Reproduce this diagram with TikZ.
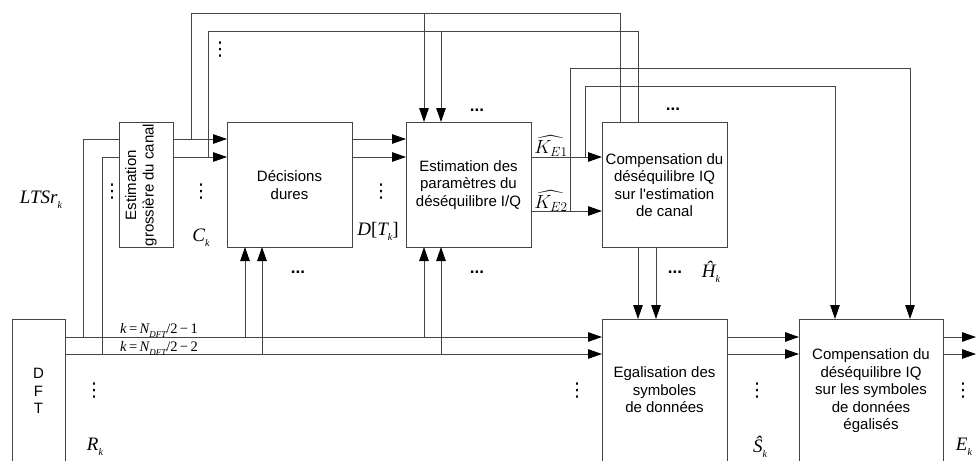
\RequirePackage{fix-cm}
\documentclass[tikz,border=0pt]{standalone}
\usepackage{exscale}
\usepackage{fontspec}
\setmainfont{Liberation Sans}
\newfontfamily\tms{Liberation Serif}
\newfontfamily\djv{DejaVu Sans}
\usetikzlibrary{arrows.meta}
\newcommand{\tm}[1]{{\tms\itshape #1}}
\newcommand{\sbk}[1]{\raisebox{-0.5ex}{\tms\itshape\fontsize{10}{10}\selectfont #1}}
\definecolor{linec}{gray}{0.27}
\tikzset{
  box/.style={draw=linec, fill=white, line width=1pt, inner sep=0pt, outer sep=0pt, anchor=north west},
  txt/.style={align=center, font=\fontsize{15}{17.5}\selectfont, inner sep=0pt},
  lab/.style={font=\fontsize{19}{19}\selectfont, inner sep=0pt},
  klab/.style={font=\fontsize{14.5}{14.5}\selectfont, inner sep=0pt},
  vd/.style={font=\djv\fontsize{19}{19}\selectfont, inner sep=0pt},
  hd/.style={font=\fontsize{17}{17}\selectfont\bfseries, inner sep=0pt, anchor=base},
  ln/.style={draw=linec, line width=1pt},
  arr/.style={ln, -{Triangle[length=14pt,width=9.5pt,color=black]}}
}
\begin{document}
\begin{tikzpicture}[x=1pt,y=-1pt]
\useasboundingbox (0,0) rectangle (976,460);
\clip (0,0) rectangle (976,460);

% boxes
\node[box, minimum width=54pt, minimum height=125pt] (est) at (119,122) {};
\node[box, minimum width=125pt, minimum height=125pt] (dec) at (227,122) {};
\node[box, minimum width=125pt, minimum height=125pt] (par) at (406,122) {};
\node[box, minimum width=125pt, minimum height=125pt] (cmp) at (602,122) {};
\node[box, minimum width=125pt, minimum height=160pt] (egal) at (602,319) {};
\node[box, minimum width=144pt, minimum height=160pt] (cmp2) at (799,319) {};
\node[box, minimum width=53pt, minimum height=160pt] (dft) at (12,319) {};

% box texts
\node[txt, rotate=90] (test) at (141,185) {Estimation\\grossière du canal};
\node[txt] (tdec) at (289.5,185) {Décisions\\dures};
\node[txt] (tpar) at (468.5,185) {Estimation des\\paramètres du\\déséquilibre I/Q};
\node[txt] (tcmp) at (664.5,185) {Compensation du\\déséquilibre IQ\\sur l\textquotesingle estimation\\de canal};
\node[txt] (tegal) at (664.5,390) {Egalisation des\\symboles\\de données};
\node[txt] (tcmp2) at (871,391) {Compensation du\\déséquilibre IQ\\sur les symboles\\de données\\égalisés};
\node[txt] (tdft) at (38.5,391) {D\\F\\T};

% levels and junctions
\coordinate (yT1) at (0,14);
\coordinate (yT2) at (0,32);
\coordinate (yU1) at (0,68);
\coordinate (yU2) at (0,86);
\coordinate (yL1) at (0,139);
\coordinate (yL2) at (0,157);
\coordinate (yK2) at (0,211);
\coordinate (yB1) at (0,337);
\coordinate (yB2) at (0,354);
\coordinate (jA) at (83,337);
\coordinate (jB) at (102,354);
\coordinate (jC) at (191,139);
\coordinate (jD) at (208,157);
\coordinate (jE) at (245,337);
\coordinate (jF) at (262,354);
\coordinate (jG) at (424,337);
\coordinate (jH) at (441,354);
\coordinate (jP) at (424,14);
\coordinate (jQ) at (441,32);
\coordinate (jI) at (570,211);
\coordinate (jJ) at (585,157);
\coordinate (xM) at (620,0);
\coordinate (xN) at (638,0);
\coordinate (xO) at (638,0);
\coordinate (xP) at (656,0);
\coordinate (xQ) at (835,0);
\coordinate (xR) at (910,0);
\coordinate (outA) at (976,337);
\coordinate (outB) at (976,354);

% DFT outputs
\draw[arr] (dft.east |- yB1) -- (egal.west |- yB1);
\draw[arr] (dft.east |- yB2) -- (egal.west |- yB2);
\draw[ln] (jA) |- (est.west |- yL1);
\draw[ln] (jB) |- (est.west |- yL2);
\draw[arr] (est.east |- yL1) -- (dec.west |- yL1);
\draw[arr] (est.east |- yL2) -- (dec.west |- yL2);
\draw[arr] (jE) -- (jE |- dec.south);
\draw[arr] (jF) -- (jF |- dec.south);
\draw[arr] (jG) -- (jG |- par.south);
\draw[arr] (jH) -- (jH |- par.south);
\draw[arr] (dec.east |- yL1) -- (par.west |- yL1);
\draw[arr] (dec.east |- yL2) -- (par.west |- yL2);

% top loops
\draw[ln] (jC) |- (xM |- yT1) -- (xM |- cmp.north);
\draw[arr] (jP) -- (jP |- par.north);
\draw[ln] (jD) |- (xN |- yT2) -- (xN |- cmp.north);
\draw[arr] (jQ) -- (jQ |- par.north);

% K outputs
\draw[arr] (par.east |- yL2) -- (cmp.west |- yL2);
\draw[arr] (par.east |- yK2) -- (cmp.west |- yK2);
\draw[arr] (jJ) |- (xQ |- yU2) -- (xQ |- cmp2.north);
\draw[arr] (jI) |- (xR |- yU1) -- (xR |- cmp2.north);

% channel estimate to equaliser
\draw[arr] (xO |- cmp.south) -- (xO |- egal.north);
\draw[arr] (xP |- cmp.south) -- (xP |- egal.north);

% equaliser to compensation, outputs
\draw[arr] (egal.east |- yB1) -- (cmp2.west |- yB1);
\draw[arr] (egal.east |- yB2) -- (cmp2.west |- yB2);
\draw[arr] (cmp2.east |- yB1) -- (outA);
\draw[arr] (cmp2.east |- yB2) -- (outB);

% labels
\node[lab] (lts) at (41,200) {\tm{LTSr}\sbk{k}};
\node[lab] (lck) at (201,238) {\tm{C}\sbk{k}};
\node[lab] (ldt) at (378,231) {\tm{D}{\tms[}\tm{T}\sbk{k}{\tms]}};
\node[lab] (lk1) at (551,146) {$\widehat{K_{E1}}$};
\node[lab] (lk2) at (551,201) {$\widehat{K_{E2}}$};
\node[lab] (lhk) at (711,272) {\tm{Ĥ}\sbk{k}};
\node[lab] (lsk) at (760,447) {\tm{Ŝ}\sbk{k}};
\node[lab] (lek) at (964,447) {\tm{E}\sbk{k}};
\node[lab] (lrk) at (95,447) {\tm{R}\sbk{k}};
\node[klab, anchor=base] (lkn1) at (159,333) {\tm{k}\,{\tms=}\,\tm{N}\raisebox{-0.6ex}{\tms\itshape\fontsize{9}{9}\selectfont DFT}{\tms/2}\,{\tms−}\,{\tms 1}};
\node[klab, anchor=base] (lkn2) at (159,351) {\tm{k}\,{\tms=}\,\tm{N}\raisebox{-0.6ex}{\tms\itshape\fontsize{9}{9}\selectfont DFT}{\tms/2}\,{\tms−}\,{\tms 2}};

% vertical dots
\node[vd] (v1) at (220,50) {⋮};
\node[vd] (v2) at (112,192) {⋮};
\node[vd] (v3) at (201,192) {⋮};
\node[vd] (v4) at (381,192) {⋮};
\node[vd] (v5) at (94,391) {⋮};
\node[vd] (v6) at (577,391) {⋮};
\node[vd] (v7) at (757,391) {⋮};
\node[vd] (v8) at (963,391) {⋮};

% horizontal dots
\node[hd] (h1) at (477,111.5) {...};
\node[hd] (h2) at (673,110.5) {...};
\node[hd] (h3) at (298,273.5) {...};
\node[hd] (h4) at (477,273.5) {...};
\node[hd] (h5) at (675,273.5) {...};
\end{tikzpicture}
\end{document}
